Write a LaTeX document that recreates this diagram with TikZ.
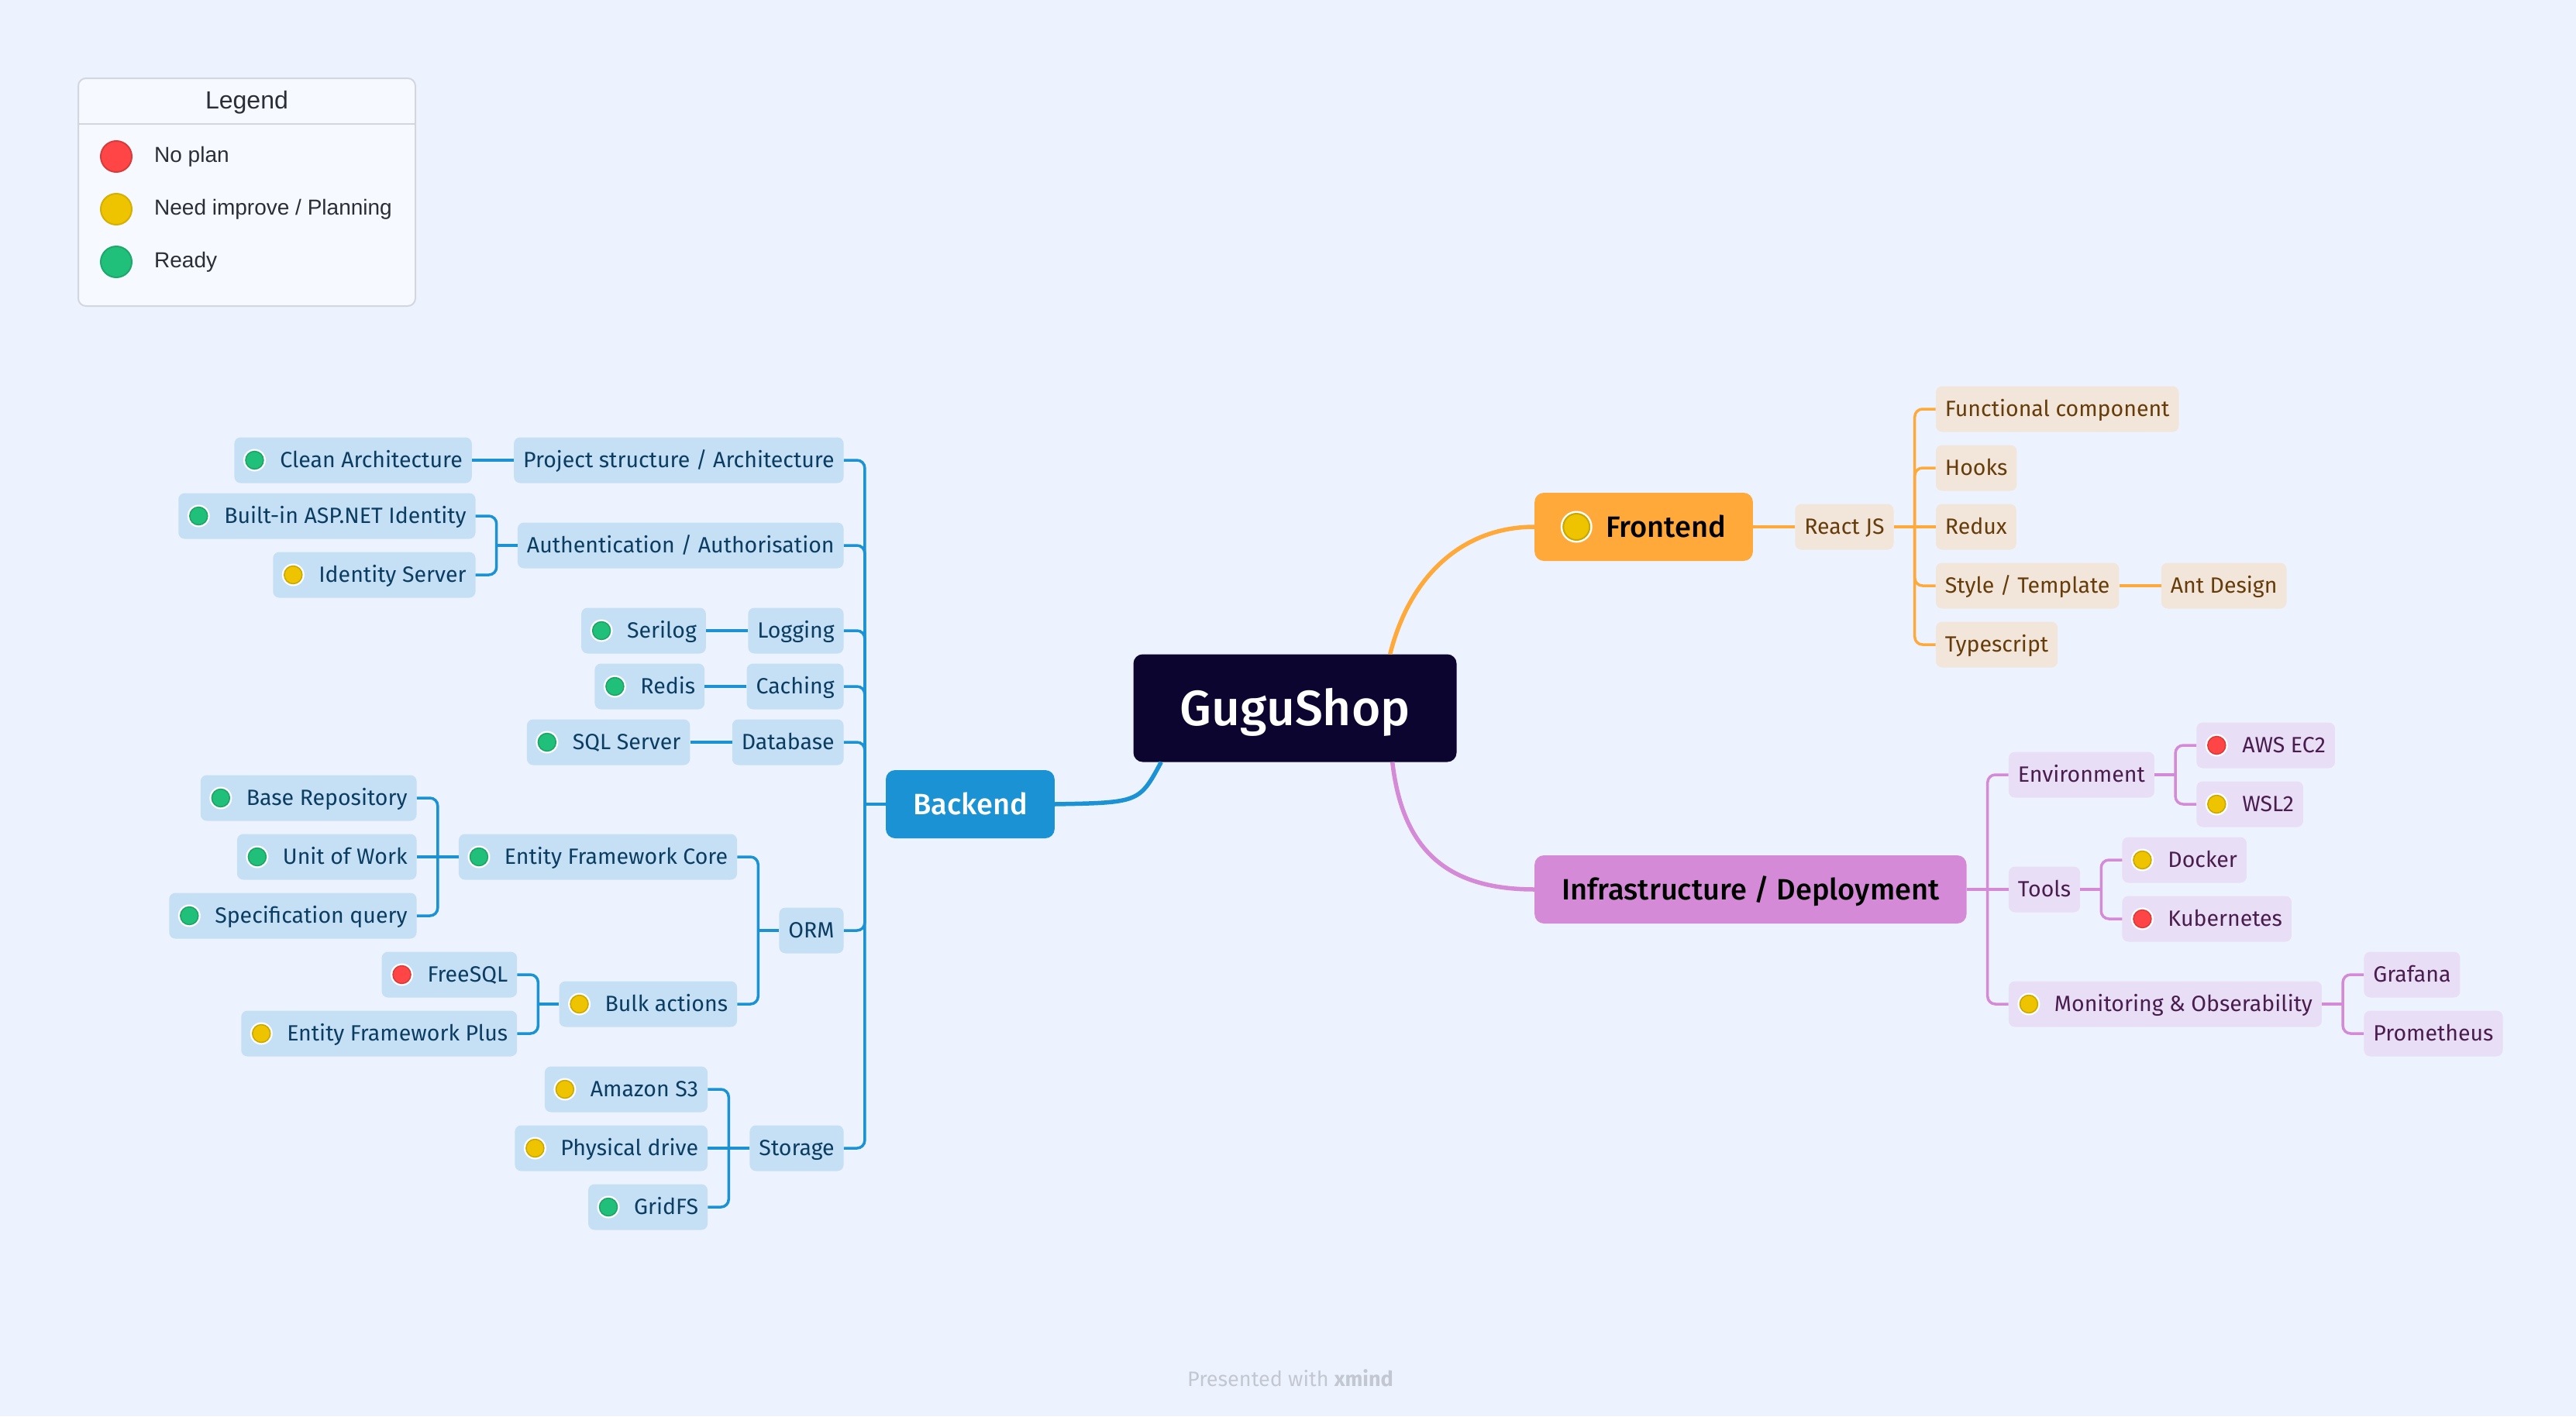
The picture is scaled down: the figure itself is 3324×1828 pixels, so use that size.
\documentclass[tikz,border=0pt]{standalone}
\usepackage{fontspec}
\setmainfont{Fira Sans}
\newfontfamily\medfont{Fira Sans Medium}
\newfontfamily\legendfont{Liberation Sans}
\usepackage{xcolor}
\usetikzlibrary{positioning}

\definecolor{bgcol}{HTML}{EDF3FE}
\definecolor{legendfill}{HTML}{F6F9FF}
\definecolor{legendborder}{HTML}{D3D6DE}
\definecolor{legendink}{HTML}{2B2E36}
\definecolor{creditink}{HTML}{C3C7D2}
\definecolor{rootcol}{HTML}{0B0530}
\definecolor{backcol}{HTML}{1A92D3}
\definecolor{backsub}{HTML}{C5E0F5}
\definecolor{backink}{HTML}{0B3D63}
\definecolor{frontcol}{HTML}{FFA93B}
\definecolor{frontsub}{HTML}{F2E5D9}
\definecolor{frontink}{HTML}{663C0A}
\definecolor{infracol}{HTML}{D48AD6}
\definecolor{infrasub}{HTML}{E8DEF5}
\definecolor{infraink}{HTML}{4B1D4F}
\definecolor{nored}{HTML}{FF4545}
\definecolor{planyellow}{HTML}{EEC400}
\definecolor{readygreen}{HTML}{20C07A}

\begin{document}
\begin{tikzpicture}[x=1pt, y=-1pt, node distance=54pt,
    central/.style={fill=rootcol, text=white, rounded corners=12pt, minimum width=417pt, minimum height=139pt, inner xsep=60pt, font=\medfont\fontsize{64}{72}\selectfont, text height=53pt, text depth=9pt},
    topic/.style={fill=#1, rounded corners=12pt, minimum height=88pt, inner xsep=35pt, font=\medfont\fontsize{38}{42}\selectfont, text height=32pt, text depth=6pt},
    subtopic/.style={fill=#1, rounded corners=8pt, minimum height=59pt, inner xsep=12pt, font=\fontsize{28.5}{32}\selectfont, text height=25pt, text depth=6pt},
    backleaf/.style={subtopic=backsub, text=backink},
    frontleaf/.style={subtopic=frontsub, text=frontink},
    infraleaf/.style={subtopic=infrasub, text=infraink},
    badge/.style={execute at begin node={\hspace*{47pt}}, path picture={
        \fill[white] ([xshift=26pt]path picture bounding box.west) circle (14.5pt);
        \draw[fill=#1, draw=#1!85!black, line width=1.5pt] ([xshift=26pt]path picture bounding box.west) circle (11.5pt);}},
    bigbadge/.style={execute at begin node={\hspace*{57pt}}, path picture={
        \fill[white] ([xshift=54pt]path picture bounding box.west) circle (20.5pt);
        \draw[fill=#1, draw=#1!85!black, line width=2pt] ([xshift=54pt]path picture bounding box.west) circle (17pt);}},
    backline/.style={draw=backcol, line width=3.5pt, rounded corners=10pt},
    frontline/.style={draw=frontcol, line width=3.5pt, rounded corners=10pt},
    infraline/.style={draw=infracol, line width=3.5pt, rounded corners=10pt},
    mainline/.style={line width=5.5pt},
    legendbox/.style={draw=legendborder, fill=legendfill, line width=2pt, rounded corners=10pt},
    legenddot/.style={circle, minimum size=40pt, inner sep=0pt, line width=2pt},
    legendhead/.style={font=\legendfont\fontsize{32}{36}\selectfont, text=legendink, inner sep=0pt},
    legendtext/.style={font=\legendfont\fontsize{28}{32}\selectfont, text=legendink, inner sep=0pt},
    credit/.style={font=\fontsize{27}{30}\selectfont, text=creditink}]
    \fill[bgcol] (0,0) rectangle (3324,1828);

    \node[legendbox, anchor=north west, minimum width=435pt, minimum height=294pt] (legend) at (100,100) {};
    \draw[legendborder, line width=2pt] ([yshift=-60pt]legend.north west) -- ([yshift=-60pt]legend.north east);
    \node[legendhead] (legendtitle) at ([yshift=-32pt]legend.north) {Legend};
    \node[legenddot, fill=nored, draw=nored!85!black] (keyred) at (150,202) {};
    \node[legenddot, fill=planyellow, draw=planyellow!90!black, below=26pt of keyred] (keyyellow) {};
    \node[legenddot, fill=readygreen, draw=readygreen!88!black, below=26pt of keyyellow] (keygreen) {};
    \node[legendtext, right=28pt of keyred] (noplan) {No plan};
    \node[legendtext, right=28pt of keyyellow] (planning) {Need improve / Planning};
    \node[legendtext, right=28pt of keygreen] (ready) {Ready};

    \node[central] (gugu) at (1671,914) {GuguShop};
    \node[topic=backcol, text=white, anchor=east] (backend) at (1361,1038) {Backend};
    \node[topic=frontcol, bigbadge=planyellow, anchor=west] (frontend) at (1980,680) {Frontend};
    \node[topic=infracol, anchor=west] (infra) at (1980,1148) {Infrastructure / Deployment};

    \node[backleaf, left=of backend, yshift=444pt] (structure) {Project structure / Architecture};
    \node[backleaf, left=of backend, yshift=334pt] (auth) {Authentication / Authorisation};
    \node[backleaf, left=of backend, yshift=224pt] (logging) {Logging};
    \node[backleaf, left=of backend, yshift=152pt] (caching) {Caching};
    \node[backleaf, left=of backend, yshift=80pt] (database) {Database};
    \node[backleaf, left=of backend, yshift=-163pt] (orm) {ORM};
    \node[backleaf, left=of backend, yshift=-444pt] (storage) {Storage};

    \node[backleaf, badge=readygreen, left=of structure] (clean) {Clean Architecture};
    \node[backleaf, badge=readygreen, left=of auth, yshift=38pt] (aspnet) {Built-in ASP.NET Identity};
    \node[backleaf, badge=planyellow, left=of auth, yshift=-38pt] (idserver) {Identity Server};
    \node[backleaf, badge=readygreen, left=of logging] (serilog) {Serilog};
    \node[backleaf, badge=readygreen, left=of caching] (redis) {Redis};
    \node[backleaf, badge=readygreen, left=of database] (sqlserver) {SQL Server};
    \node[backleaf, badge=readygreen, left=of orm, yshift=95pt] (efcore) {Entity Framework Core};
    \node[backleaf, badge=planyellow, left=of orm, yshift=-95pt] (bulk) {Bulk actions};
    \node[backleaf, badge=readygreen, left=of efcore, yshift=76pt] (baserepo) {Base Repository};
    \node[backleaf, badge=readygreen, left=of efcore] (unitofwork) {Unit of Work};
    \node[backleaf, badge=readygreen, left=of efcore, yshift=-76pt] (specquery) {Specification query};
    \node[backleaf, badge=nored, left=of bulk, yshift=38pt] (freesql) {FreeSQL};
    \node[backleaf, badge=planyellow, left=of bulk, yshift=-38pt] (efplus) {Entity Framework Plus};
    \node[backleaf, badge=planyellow, left=of storage, yshift=76pt] (amazons3) {Amazon S3};
    \node[backleaf, badge=planyellow, left=of storage] (physical) {Physical drive};
    \node[backleaf, badge=readygreen, left=of storage, yshift=-76pt] (gridfs) {GridFS};

    \node[frontleaf, right=of frontend] (reactjs) {React JS};
    \node[frontleaf, right=of reactjs, yshift=152pt] (functional) {Functional component};
    \node[frontleaf, right=of reactjs, yshift=76pt] (hooks) {Hooks};
    \node[frontleaf, right=of reactjs] (redux) {Redux};
    \node[frontleaf, right=of reactjs, yshift=-76pt] (styletpl) {Style / Template};
    \node[frontleaf, right=of reactjs, yshift=-152pt] (typescript) {Typescript};
    \node[frontleaf, right=of styletpl] (antdesign) {Ant Design};

    \node[infraleaf, right=of infra, yshift=148pt] (environment) {Environment};
    \node[infraleaf, right=of infra] (tools) {Tools};
    \node[infraleaf, badge=planyellow, right=of infra, yshift=-148pt] (monitoring) {Monitoring \& Obserability};
    \node[infraleaf, badge=nored, right=of environment, yshift=38pt] (awsec2) {AWS EC2};
    \node[infraleaf, badge=planyellow, right=of environment, yshift=-38pt] (wsl) {WSL2};
    \node[infraleaf, badge=planyellow, right=of tools, yshift=38pt] (docker) {Docker};
    \node[infraleaf, badge=nored, right=of tools, yshift=-38pt] (kubernetes) {Kubernetes};
    \node[infraleaf, right=of monitoring, yshift=38pt] (grafana) {Grafana};
    \node[infraleaf, right=of monitoring, yshift=-38pt] (prometheus) {Prometheus};

    \draw[backline, mainline] ([xshift=36pt]gugu.south west) .. controls (1470,1036) .. (backend.east);
    \draw[frontline, mainline] ([xshift=-86pt]gugu.north east) .. controls (1820,740) and (1890,680) .. (frontend.west);
    \draw[infraline, mainline] ([xshift=-83pt]gugu.south east) .. controls (1810,1100) and (1870,1148) .. (infra.west);

    \draw[backline] (backend.west) -- ++(-27,0) coordinate (backbar);
    \draw[backline] (backbar) |- (structure.east);
    \draw[backline] (backbar) |- (auth.east);
    \draw[backline] (backbar) |- (logging.east);
    \draw[backline] (backbar) |- (caching.east);
    \draw[backline] (backbar) |- (database.east);
    \draw[backline] (backbar) |- (orm.east);
    \draw[backline] (backbar) |- (storage.east);
    \draw[backline] (structure.west) -- (clean.east);
    \draw[backline] (auth.west) -- ++(-27,0) coordinate (authbar);
    \draw[backline] (authbar) |- (aspnet.east);
    \draw[backline] (authbar) |- (idserver.east);
    \draw[backline] (logging.west) -- (serilog.east);
    \draw[backline] (caching.west) -- (redis.east);
    \draw[backline] (database.west) -- (sqlserver.east);
    \draw[backline] (orm.west) -- ++(-27,0) coordinate (ormbar);
    \draw[backline] (ormbar) |- (efcore.east);
    \draw[backline] (ormbar) |- (bulk.east);
    \draw[backline] (efcore.west) -- ++(-27,0) coordinate (efbar);
    \draw[backline] (efbar) |- (baserepo.east);
    \draw[backline] (efbar) -- (unitofwork.east);
    \draw[backline] (efbar) |- (specquery.east);
    \draw[backline] (bulk.west) -- ++(-27,0) coordinate (bulkbar);
    \draw[backline] (bulkbar) |- (freesql.east);
    \draw[backline] (bulkbar) |- (efplus.east);
    \draw[backline] (storage.west) -- ++(-27,0) coordinate (storebar);
    \draw[backline] (storebar) |- (amazons3.east);
    \draw[backline] (storebar) -- (physical.east);
    \draw[backline] (storebar) |- (gridfs.east);

    \draw[frontline] (frontend.east) -- (reactjs.west);
    \draw[frontline] (reactjs.east) -- ++(27,0) coordinate (reactbar);
    \draw[frontline] (reactbar) |- (functional.west);
    \draw[frontline] (reactbar) |- (hooks.west);
    \draw[frontline] (reactbar) -- (redux.west);
    \draw[frontline] (reactbar) |- (styletpl.west);
    \draw[frontline] (reactbar) |- (typescript.west);
    \draw[frontline] (styletpl.east) -- (antdesign.west);

    \draw[infraline] (infra.east) -- ++(27,0) coordinate (infrabar);
    \draw[infraline] (infrabar) |- (environment.west);
    \draw[infraline] (infrabar) -- (tools.west);
    \draw[infraline] (infrabar) |- (monitoring.west);
    \draw[infraline] (environment.east) -- ++(27,0) coordinate (envbar);
    \draw[infraline] (envbar) |- (awsec2.west);
    \draw[infraline] (envbar) |- (wsl.west);
    \draw[infraline] (tools.east) -- ++(27,0) coordinate (toolbar);
    \draw[infraline] (toolbar) |- (docker.west);
    \draw[infraline] (toolbar) |- (kubernetes.west);
    \draw[infraline] (monitoring.east) -- ++(27,0) coordinate (monbar);
    \draw[infraline] (monbar) |- (grafana.west);
    \draw[infraline] (monbar) |- (prometheus.west);

    \node[credit] (presented) at (1665,1779) {Presented with \textbf{xmind}};
\end{tikzpicture}
\end{document}
